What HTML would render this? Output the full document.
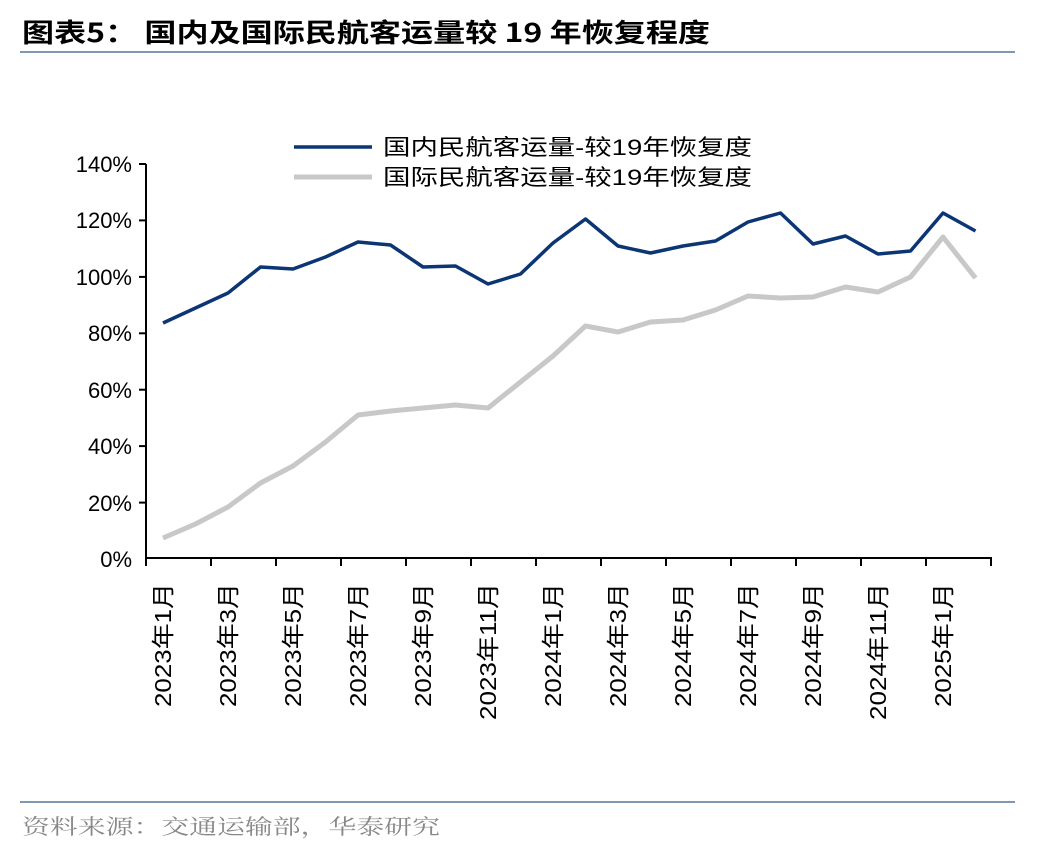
<!DOCTYPE html>
<html><head><meta charset="utf-8"><style>
body{margin:0;background:#fff;}
svg{display:block;font-family:"Liberation Sans","Noto Sans CJK SC",sans-serif;}
</style></head><body>
<svg width="1048" height="852" viewBox="0 0 1048 852">
<text x="22" y="42" font-size="26" font-weight="bold" fill="#000" textLength="688" lengthAdjust="spacingAndGlyphs" font-family="'Noto Sans CJK SC',sans-serif">图表5：  国内及国际民航客运量较 19 年恢复程度</text>
<line x1="20" y1="52" x2="1015" y2="52" stroke="#8097b5" stroke-width="2"/>
<line x1="20" y1="802" x2="1015" y2="802" stroke="#8097b5" stroke-width="2"/>
<text x="22" y="834" font-size="21" fill="#888" textLength="418" lengthAdjust="spacingAndGlyphs" font-family="'Noto Serif CJK SC',serif">资料来源：交通运输部，华泰研究</text>
<g stroke="#000" stroke-width="2">
<line x1="146" y1="164" x2="146" y2="559"/>
<line x1="146" y1="558" x2="992" y2="558"/>
<line x1="139" y1="164" x2="146" y2="164"/><line x1="139" y1="220.4" x2="146" y2="220.4"/><line x1="139" y1="276.9" x2="146" y2="276.9"/><line x1="139" y1="333.3" x2="146" y2="333.3"/><line x1="139" y1="389.7" x2="146" y2="389.7"/><line x1="139" y1="446.1" x2="146" y2="446.1"/><line x1="139" y1="502.6" x2="146" y2="502.6"/>
<line x1="146" y1="558" x2="146" y2="566"/><line x1="211" y1="558" x2="211" y2="566"/><line x1="276" y1="558" x2="276" y2="566"/><line x1="341" y1="558" x2="341" y2="566"/><line x1="406" y1="558" x2="406" y2="566"/><line x1="471" y1="558" x2="471" y2="566"/><line x1="536" y1="558" x2="536" y2="566"/><line x1="601" y1="558" x2="601" y2="566"/><line x1="666" y1="558" x2="666" y2="566"/><line x1="731" y1="558" x2="731" y2="566"/><line x1="796" y1="558" x2="796" y2="566"/><line x1="861" y1="558" x2="861" y2="566"/><line x1="926" y1="558" x2="926" y2="566"/><line x1="991" y1="558" x2="991" y2="566"/>
</g>
<g font-size="22" text-anchor="end" fill="#000">
<text x="132" y="172">140%</text><text x="132" y="228">120%</text><text x="132" y="285">100%</text><text x="132" y="341">80%</text><text x="132" y="398">60%</text><text x="132" y="454">40%</text><text x="132" y="511">20%</text><text x="132" y="567">0%</text>
</g>
<g font-size="23" text-anchor="end" fill="#000" lengthAdjust="spacingAndGlyphs">
<text transform="translate(171,583) rotate(-90)" textLength="124" lengthAdjust="spacingAndGlyphs">2023年1月</text>
<text transform="translate(236,583) rotate(-90)" textLength="124" lengthAdjust="spacingAndGlyphs">2023年3月</text>
<text transform="translate(301,583) rotate(-90)" textLength="124" lengthAdjust="spacingAndGlyphs">2023年5月</text>
<text transform="translate(366,583) rotate(-90)" textLength="124" lengthAdjust="spacingAndGlyphs">2023年7月</text>
<text transform="translate(431,583) rotate(-90)" textLength="124" lengthAdjust="spacingAndGlyphs">2023年9月</text>
<text transform="translate(496,583) rotate(-90)" textLength="137" lengthAdjust="spacingAndGlyphs">2023年11月</text>
<text transform="translate(561,583) rotate(-90)" textLength="124" lengthAdjust="spacingAndGlyphs">2024年1月</text>
<text transform="translate(626,583) rotate(-90)" textLength="124" lengthAdjust="spacingAndGlyphs">2024年3月</text>
<text transform="translate(691,583) rotate(-90)" textLength="124" lengthAdjust="spacingAndGlyphs">2024年5月</text>
<text transform="translate(756,583) rotate(-90)" textLength="124" lengthAdjust="spacingAndGlyphs">2024年7月</text>
<text transform="translate(821,583) rotate(-90)" textLength="124" lengthAdjust="spacingAndGlyphs">2024年9月</text>
<text transform="translate(886,583) rotate(-90)" textLength="137" lengthAdjust="spacingAndGlyphs">2024年11月</text>
<text transform="translate(951,583) rotate(-90)" textLength="124" lengthAdjust="spacingAndGlyphs">2025年1月</text>
</g>
<polyline fill="none" stroke="#c8c8c8" stroke-width="5" stroke-linejoin="round" points="163,538 195.5,524 228,507 260.5,483 293,466 325.5,442 358,415 390.5,411 423,408 455.5,405 488,408 520.5,382 553,356 585.5,326 618,332 650.5,322 683,320 715.5,310 748,296 780.5,298 813,297 845.5,287 878,292 910.5,277 943,237 975.5,278"/>
<polyline fill="none" stroke="#0c3574" stroke-width="3.5" stroke-linejoin="round" points="163,323 195.5,308 228,293 260.5,267 293,269 325.5,257 358,242 390.5,245 423,267 455.5,266 488,284 520.5,274 553,243 585.5,219 618,246 650.5,253 683,246 715.5,241 748,222 780.5,213 813,244 845.5,236 878,254 910.5,251 943,213 975.5,231"/>
<line x1="294" y1="147" x2="372" y2="147" stroke="#0c3574" stroke-width="3.5"/>
<line x1="294" y1="177" x2="372" y2="177" stroke="#c8c8c8" stroke-width="5"/>
<text x="383" y="155" font-size="22" fill="#000" textLength="369" lengthAdjust="spacingAndGlyphs">国内民航客运量-较19年恢复度</text>
<text x="383" y="185" font-size="22" fill="#000" textLength="369" lengthAdjust="spacingAndGlyphs">国际民航客运量-较19年恢复度</text>
</svg>
</body></html>
